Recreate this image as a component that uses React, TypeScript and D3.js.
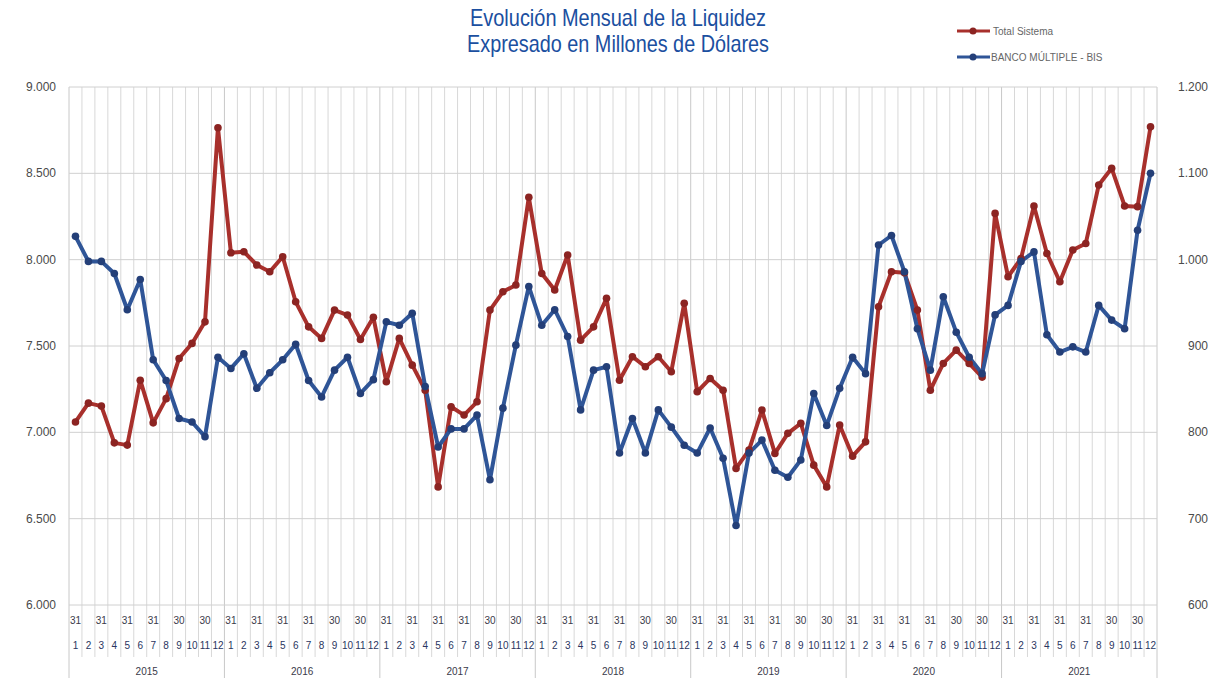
import React from "react";
import * as d3 from "d3";

const years = ["2015", "2016", "2017", "2018", "2019", "2020", "2021"];
const monthNumbers = ["1", "2", "3", "4", "5", "6", "7", "8", "9", "10", "11", "12"];
const monthDays = ["31", "28", "31", "30", "31", "30", "31", "31", "30", "31", "30", "31"];
const leftTicks = [6000, 6500, 7000, 7500, 8000, 8500, 9000];
const rightTicks = [600, 700, 800, 900, 1000, 1100, 1200];

// Total Sistema (left axis), Jan 2015 .. Dec 2021
const totalSistema = [
  7060, 7169, 7152, 6939, 6926, 7302, 7055, 7195, 7428, 7515, 7640, 8764,
  8040, 8046, 7969, 7930, 8017, 7756, 7611, 7544, 7708, 7679, 7538, 7666,
  7293, 7544, 7389, 7244, 6684, 7148, 7100, 7177, 7708, 7814, 7853, 8361,
  7920, 7824, 8027, 7534, 7611, 7776, 7302, 7438, 7380, 7438, 7351, 7747,
  7235, 7312, 7244, 6791, 6897, 7129, 6878, 6994, 7052, 6810, 6684, 7042,
  6862, 6945, 7727, 7930, 7924, 7708, 7244, 7399, 7476, 7399, 7320, 8268,
  7901, 8007, 8311, 8036, 7872, 8056, 8094, 8432, 8529, 8311, 8307, 8770,
];

// BANCO MÚLTIPLE - BIS (right axis)
const bancoBis = [
  1027, 998, 998, 984, 942, 977, 884, 860, 816, 812, 795, 887,
  874, 891, 851, 869, 884, 902, 860, 841, 872, 887, 845, 861,
  928, 924, 938, 853, 783, 804, 804, 820, 745, 828, 901, 969,
  924, 942, 911, 826, 872, 876, 776, 816, 776, 826, 806, 785,
  776, 805, 770, 692, 776, 791, 756, 748, 768, 845, 808, 851,
  887, 868, 1017, 1028, 986, 920, 872, 957, 916, 887, 868, 936,
  947, 998, 1009, 913, 893, 899, 893, 947, 930, 920, 1034, 1100,
];

const W = 1213;
const H = 678;
const plotL = 69;
const plotR = 1157;
const plotT = 87;
const plotB = 605;

const RED = "#a8302c";
const RED_DARK = "#8c2422";
const BLUE = "#2f5597";
const BLUE_DARK = "#243f78";
const TITLE = "#1b4fa0";

const fmt = (v: number) => d3.format(",")(v).replace(/,/g, ".");

export default function App() {
  const cats = d3.range(totalSistema.length);
  const x = d3.scaleBand<number>().domain(cats).range([plotL, plotR]).padding(0);
  const bw = x.bandwidth();
  const cx = (i: number) => (x(i) as number) + bw / 2;
  const yL = d3.scaleLinear().domain([6000, 9000]).range([plotB, plotT]);
  const yR = d3.scaleLinear().domain([600, 1200]).range([plotB, plotT]);

  const lineL = d3.line<number>().x((_, i) => cx(i)).y((d) => yL(d));
  const lineR = d3.line<number>().x((_, i) => cx(i)).y((d) => yR(d));

  const labelFont = "'Liberation Sans', Arial, sans-serif";
  const boundaries = d3.range(totalSistema.length + 1);

  return (
    <svg
      width={W}
      height={H}
      style={{ position: "absolute", left: 0, top: 0, background: "#fff" }}
      xmlns="http://www.w3.org/2000/svg"
    >
      <rect x={0} y={0} width={W} height={H} fill="#fff" />
      {/* Title */}
      <g fontFamily="'Liberation Sans Narrow', 'Liberation Sans', Arial, sans-serif" fill={TITLE} textAnchor="middle" fontSize={24}>
        <text x={618} y={26} textLength={296} lengthAdjust="spacingAndGlyphs">Evolución Mensual de la Liquidez</text>
        <text x={618} y={52} textLength={302} lengthAdjust="spacingAndGlyphs">Expresado en Millones de Dólares</text>
      </g>

      {/* Legend */}
      <g fontFamily={labelFont} fontSize={10} fill="#666">
        <line x1={957} x2={990} y1={31} y2={31} stroke={RED} strokeWidth={3} />
        <circle cx={973} cy={31} r={3.5} fill={RED_DARK} />
        <text x={993} y={34.5}>Total Sistema</text>
        <line x1={957} x2={990} y1={57} y2={57} stroke={BLUE} strokeWidth={3} />
        <circle cx={973} cy={57} r={3.5} fill={BLUE_DARK} />
        <text x={991} y={60.5}>BANCO MÚLTIPLE - BIS</text>
      </g>

      {/* Vertical gridlines */}
      <g strokeWidth={1}>
        {boundaries.map((b) => {
          const xx = b < totalSistema.length ? (x(b) as number) : plotR;
          const isYear = b % 12 === 0;
          return (
            <line
              key={"v" + b}
              x1={xx}
              x2={xx}
              y1={plotT}
              y2={isYear ? H : 657}
              stroke={isYear ? "#c8c8c8" : "#d8d8d8"}
            />
          );
        })}
      </g>
      {/* Horizontal gridlines */}
      <g stroke="#d0d0d0" strokeWidth={1}>
        {leftTicks.map((t) => (
          <line key={"h" + t} x1={plotL} x2={plotR} y1={yL(t)} y2={yL(t)} />
        ))}
      </g>

      {/* Left axis labels */}
      <g fontFamily={labelFont} fontSize={12} fill="#4a4a4a" textAnchor="end">
        {leftTicks.map((t) => (
          <text key={"l" + t} x={56} y={yL(t) + 4}>{fmt(t)}</text>
        ))}
      </g>
      {/* Right axis labels */}
      <g fontFamily={labelFont} fontSize={12} fill="#4a4a4a" textAnchor="end">
        {rightTicks.map((t) => (
          <text key={"r" + t} x={1208} y={yR(t) + 4}>{fmt(t)}</text>
        ))}
      </g>

      {/* Category labels */}
      <g fontFamily={labelFont} fontSize={10} fill="#3a3a4a" textAnchor="middle">
        {cats.map((i) =>
          i % 2 === 0 ? (
            <text key={"d" + i} x={cx(i)} y={624}>{monthDays[i % 12]}</text>
          ) : null
        )}
        {cats.map((i) => (
          <text key={"m" + i} x={cx(i)} y={649} fill="#2a3560">{monthNumbers[i % 12]}</text>
        ))}
        {years.map((yr, k) => {
          const x0 = x(k * 12) as number;
          const x1 = k * 12 + 12 < totalSistema.length ? (x(k * 12 + 12) as number) : plotR;
          return (
            <text key={"y" + yr} x={(x0 + x1) / 2} y={675}>{yr}</text>
          );
        })}
      </g>

      {/* Series */}
      <path d={lineL(totalSistema) || ""} fill="none" stroke={RED} strokeWidth={4} strokeLinejoin="round" />
      <path d={lineR(bancoBis) || ""} fill="none" stroke={BLUE} strokeWidth={4} strokeLinejoin="round" />
      <g fill={RED_DARK}>
        {totalSistema.map((v, i) => (
          <circle key={"rc" + i} cx={cx(i)} cy={yL(v)} r={3.8} />
        ))}
      </g>
      <g fill={BLUE_DARK}>
        {bancoBis.map((v, i) => (
          <circle key={"bc" + i} cx={cx(i)} cy={yR(v)} r={3.8} />
        ))}
      </g>
    </svg>
  );
}
